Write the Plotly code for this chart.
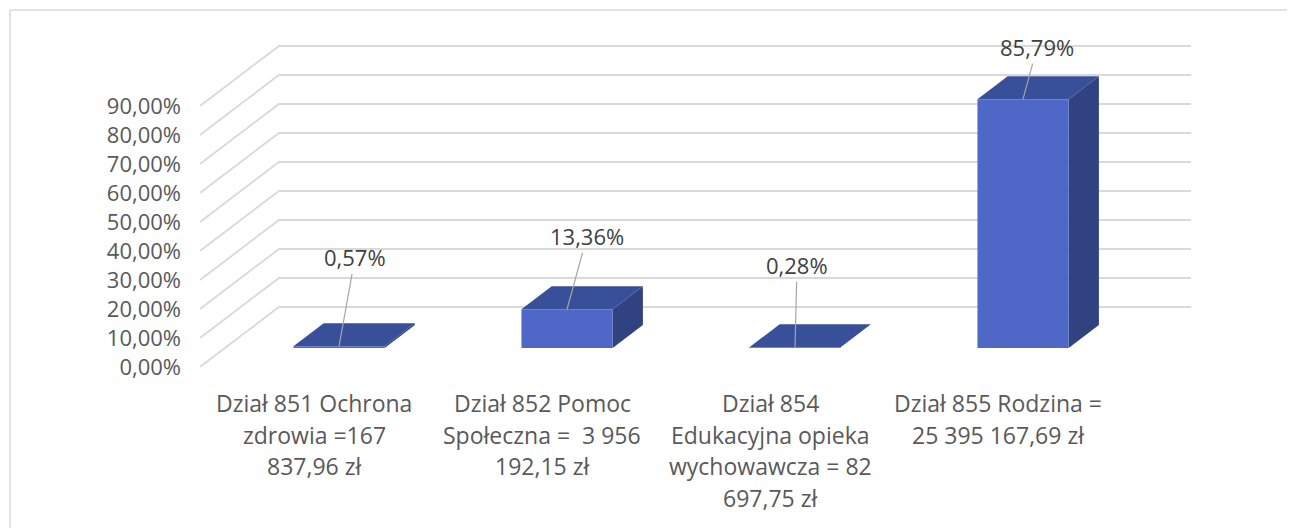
import plotly.graph_objects as go

# ---------------- data ----------------
categories = [
    "Dział 851 Ochrona\nzdrowia =167\n837,96 zł",
    "Dział 852 Pomoc\nSpołeczna =  3 956\n192,15 zł",
    "Dział 854\nEdukacyjna opieka\nwychowawcza = 82\n697,75 zł",
    "Dział 855 Rodzina =\n25 395 167,69 zł",
]
values = [0.57, 13.36, 0.28, 85.79]          # percent
tick_values = [0, 10, 20, 30, 40, 50, 60, 70, 80, 90]
tick_labels = [f"{v:.2f}%".replace(".", ",") for v in tick_values]
value_labels = [f"{v:.2f}%".replace(".", ",") for v in values]

# ---------------- style / layout params ----------------
OFF = 8                              # page body margin in the browser
W, H = 1295 - OFF, 528 - OFF
ML, MT = 200 - OFF, 34 - OFF
MR = W - (1191 - OFF)
MB = H - (367 - OFF)
PX_PER_PCT = 2.9
PX_PER_CAT = 228
DEPTH_DX = 79 / PX_PER_CAT          # full depth offset in category units
DEPTH_DY = 60 / PX_PER_PCT          # full depth offset in percent units
D0, D1 = 0.317, 0.70                # bar depth span
HALF_W = 0.2                        # half bar width (category units)
FONT = "'Open Sans', 'Noto Sans', sans-serif"
FS_TICK = 22
FS_DATA = 22
FS_CAT = 23
TXT = "#595959"
GRID = "#d9d9d9"
FRONT, TOP, SIDE = "#4F68C7", "#384F99", "#30427F"
# manual data-label offsets in pixels (dx, dy) relative to bar front-top centre
label_offsets = [(16, -89), (20, -73), (2, -82), (14, -52)]
LINE_STEP = 31.5
FIRST_LINE = 36

n = len(categories)
xmin, xmax = -0.5, n - 0.5 + DEPTH_DX
pw, ph = W - ML - MR, H - MT - MB
ytop = ph / PX_PER_PCT

fig = go.Figure()

# back wall + side wall gridlines
for v in tick_values:
    fig.add_trace(go.Scatter(
        x=[xmin, xmin + DEPTH_DX, xmax],
        y=[v, v + DEPTH_DY, v + DEPTH_DY],
        mode="lines", line=dict(color=GRID, width=1.8),
        hoverinfo="skip", showlegend=False))

# 3D bars
for i, v in enumerate(values):
    xl0, xr0 = i - HALF_W + D0 * DEPTH_DX, i + HALF_W + D0 * DEPTH_DX
    xl1, xr1 = i - HALF_W + D1 * DEPTH_DX, i + HALF_W + D1 * DEPTH_DX
    yb0, yb1 = D0 * DEPTH_DY, D1 * DEPTH_DY
    # side face
    fig.add_trace(go.Scatter(
        x=[xr0, xr1, xr1, xr0, xr0], y=[yb0, yb1, v + yb1, v + yb0, yb0],
        mode="lines", fill="toself", fillcolor=SIDE, line=dict(width=0, color=SIDE),
        hoverinfo="skip", showlegend=False))
    # top face
    fig.add_trace(go.Scatter(
        x=[xl0, xr0, xr1, xl1, xl0], y=[v + yb0, v + yb0, v + yb1, v + yb1, v + yb0],
        mode="lines", fill="toself", fillcolor=TOP, line=dict(width=0, color=TOP),
        hoverinfo="skip", showlegend=False))
    # front face
    fig.add_trace(go.Scatter(
        x=[xl0, xr0, xr0, xl0, xl0], y=[yb0, yb0, v + yb0, v + yb0, yb0],
        mode="lines", fill="toself", fillcolor=FRONT, line=dict(width=0, color=FRONT),
        hoverinfo="skip", showlegend=False))
    # data label with leader line
    dx, dy = label_offsets[i]
    fig.add_annotation(
        x=i + D0 * DEPTH_DX, y=v + yb0, xref="x", yref="y",
        text=value_labels[i], showarrow=True, arrowhead=0, arrowwidth=1.2,
        arrowcolor="#a6a6a6", ax=dx, ay=dy, standoff=0,
        font=dict(family=FONT, size=FS_DATA, color="#404040"))

# category labels (one annotation per line for Excel-like line spacing)
for i, cat in enumerate(categories):
    for k, line in enumerate(cat.split("\n")):
        fig.add_annotation(
            x=i, y=0, xref="x", yref="y", text=line, showarrow=False,
            xanchor="center", yanchor="middle",
            yshift=-(FIRST_LINE + k * LINE_STEP),
            font=dict(family=FONT, size=FS_CAT, color=TXT))

# outer frame (top and left edges visible)
px2paper_x = lambda px: (px - OFF - ML) / pw
py2paper_y = lambda py: (H - MB - (py - OFF)) / ph
fig.add_shape(type="line", xref="paper", yref="paper",
              x0=px2paper_x(10), y0=py2paper_y(10), x1=px2paper_x(1295), y1=py2paper_y(10),
              line=dict(color=GRID, width=1.5))
fig.add_shape(type="line", xref="paper", yref="paper",
              x0=px2paper_x(10), y0=py2paper_y(10), x1=px2paper_x(10), y1=py2paper_y(528),
              line=dict(color=GRID, width=1.5))

fig.update_layout(
    width=W, height=H,
    margin=dict(l=ML, r=MR, t=MT, b=MB, pad=0),
    paper_bgcolor="white", plot_bgcolor="white",
    showlegend=False, hovermode=False,
    xaxis=dict(range=[xmin, xmax], showgrid=False, zeroline=False,
               showticklabels=False, showline=False, fixedrange=True),
    yaxis=dict(range=[0, ytop], showgrid=False, zeroline=False, showline=False,
               tickmode="array", tickvals=tick_values, ticktext=tick_labels,
               ticks="", ticklabelstandoff=18,
               tickfont=dict(family=FONT, size=FS_TICK, color=TXT), fixedrange=True),
)

fig.write_html("out.html")
